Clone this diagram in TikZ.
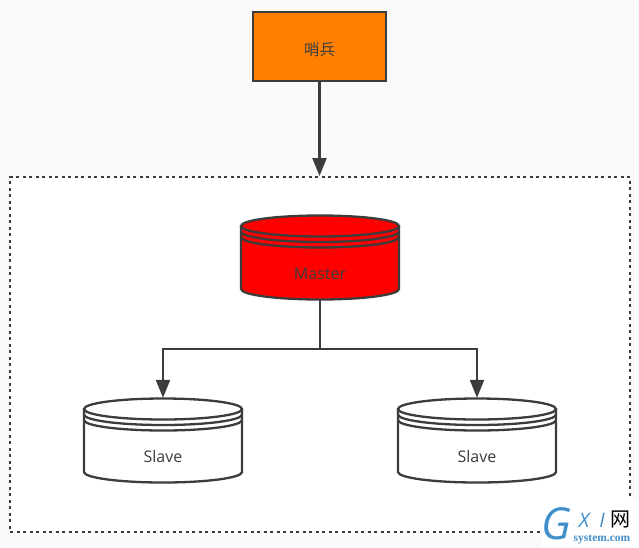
\documentclass[tikz,border=0pt]{standalone}
\usepackage{fontspec}
\setmainfont{Open Sans}
\newfontfamily\cjkfont{Noto Sans CJK SC}
\newfontfamily\markfont{Liberation Serif}
\usetikzlibrary{arrows.meta}
\definecolor{pagegray}{HTML}{FAFAFA}
\definecolor{linegray}{HTML}{3C3C3C}
\definecolor{sentryorange}{HTML}{FF8000}
\definecolor{markblue}{HTML}{3F8FCB}
\tikzset{
	sentrybox/.style={draw=linegray, line width=2.3pt, fill=sentryorange, minimum width=133pt, minimum height=69pt, inner sep=0pt, text=linegray, text height=19pt, text depth=1.5pt, font=\cjkfont\fontsize{15.5}{17}\selectfont},
	groupbox/.style={draw=linegray, line width=2pt, fill=white, dash pattern=on 3pt off 3.5pt, minimum width=620pt, minimum height=355pt, inner sep=0pt},
	dbnode/.style={minimum width=158pt, minimum height=85pt, inner sep=0pt},
	dbline/.style={draw=linegray, line width=2.3pt},
	conn/.style={draw=linegray, line width=2.3pt, -{Triangle[length=18pt, width=14pt]}},
}
% cylinder: name, x, y of centre, fill, text, text offset
\newcommand{\database}[6]{
	\fill[#4] (#2-79,#3-31.5) arc[start angle=180, end angle=360, x radius=79, y radius=10.5] -- (#2+79,#3+31.5) arc[start angle=0, end angle=180, x radius=79, y radius=10.5] -- cycle;
	\draw[dbline] (#2-79,#3-31.5) -- (#2-79,#3+31.5) arc[start angle=180, end angle=0, x radius=79, y radius=10.5] -- (#2+79,#3-31.5);
	\draw[dbline] (#2,#3-31.5) ellipse[x radius=79, y radius=10.5];
	\draw[dbline] (#2-79,#3-26) arc[start angle=180, end angle=0, x radius=79, y radius=10.5];
	\draw[dbline] (#2-79,#3-20.5) arc[start angle=180, end angle=0, x radius=79, y radius=10.5];
	\node[dbnode] (#1) at (#2,#3) {};
	\node at (#2,#3+#6) [text=linegray, font=\fontsize{16}{18}\selectfont] (#1text) {#5};
}
\begin{document}
\begin{tikzpicture}[x=1pt, y=-1pt]
	\useasboundingbox (0,0) rectangle (639,547);
	\fill[pagegray] (0,0) rectangle (639,547);
	\node[groupbox] (group) at (320,354.5) {};
	\node[sentrybox] (sentry) at (319.5,46.5) {哨兵};
	\database{master}{320}{257.5}{red}{Master}{16}
	\database{slaveleft}{163}{440.5}{white}{Slave}{15.5}
	\database{slaveright}{477}{440.5}{white}{Slave}{15.5}
	\coordinate (branch) at (320,349);
	\draw[conn] (sentry.south) -- (group.north -| sentry.south);
	\draw[dbline] (master.south) -- (branch);
	\draw[conn] (branch) -| (slaveleft.north);
	\draw[conn] (branch) -| (slaveright.north);
	% watermark in the corner
	\fill[white] (541,499) rectangle (639,547);
	\node[text=markblue, font=\fontsize{44}{44}\selectfont\itshape, inner sep=0pt] (markg) at (556,524) {G};
	\node[text=markblue, font=\fontsize{20}{20}\selectfont\itshape, inner sep=0pt] (markx) at (584,520) {X};
	\node[text=markblue, font=\fontsize{20}{20}\selectfont\itshape, inner sep=0pt] (marki) at (602,520) {I};
	\node[text=black, font=\cjkfont\fontsize{20}{20}\selectfont, inner sep=0pt] (markw) at (620,519) {网};
	\node[text=markblue, font=\markfont\bfseries\fontsize{11.5}{12}\selectfont, inner sep=0pt] (marks) at (602,539) {system.com};
\end{tikzpicture}
\end{document}
